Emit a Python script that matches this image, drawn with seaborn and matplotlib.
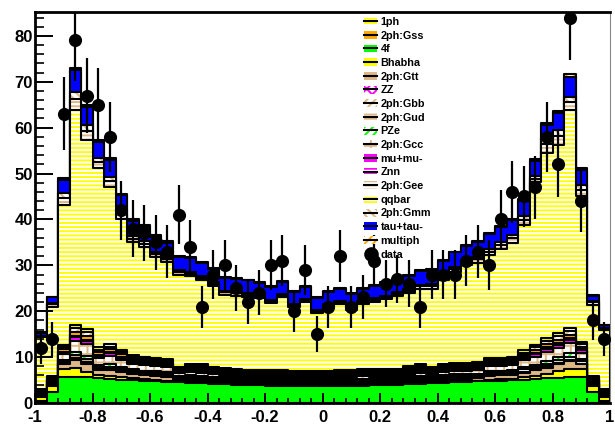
import numpy as np
import pandas as pd
import matplotlib
matplotlib.use("Agg")
import matplotlib.pyplot as plt
import seaborn as sns
from matplotlib.patches import Patch
from matplotlib.lines import Line2D
from matplotlib.ticker import MultipleLocator

# ---------------- data (50 bins from -1 to 1) ----------------
bin_edges = list(np.round(np.linspace(-1.0, 1.0, 51), 4))
bin_centers = 0.5 * (np.array(bin_edges[:-1]) + np.array(bin_edges[1:]))

data = [12, 14, 63, 79, 67, 65, 58, 42, 38, 37,
        35, 33, 41, 34, 21, 28, 30, 25, 22, 24,
        30, 31, 20, 29, 15, 21, 32, 21, 23, 31,
        26, 27, 26, 21, 28, 28, 28, 31, 33, 30,
        40, 46, 45, 47, 58, 52, 84, 44, 18, 14]

fourf = [0.5, 2.5, 5.6, 5.7, 5.6, 5.4, 5.3, 5.1, 5.0, 4.9,
         4.8, 4.6, 4.5, 4.4, 4.3, 4.2, 4.1, 4.0, 3.9, 3.9,
         3.8, 3.8, 3.7, 3.7, 3.7, 3.7, 3.7, 3.8, 3.8, 3.9,
         3.9, 4.0, 4.1, 4.2, 4.3, 4.4, 4.5, 4.6, 4.7, 4.8,
         4.9, 5.0, 5.1, 5.3, 5.4, 5.5, 5.6, 5.6, 2.5, 0.5]

bhabha = [0.8, 1.2, 1.9, 1.9, 1.2, 0.6, 0.6, 0.5, 0.4, 0.3,
          0.3, 0.3, 0.2, 0.2, 0.2, 0.2, 0.2, 0.2, 0.2, 0.2,
          0.2, 0.2, 0.2, 0.2, 0.2, 0.2, 0.2, 0.2, 0.2, 0.2,
          0.2, 0.2, 0.2, 0.2, 0.2, 0.2, 0.2, 0.2, 0.2, 0.3,
          0.3, 0.3, 0.5, 0.6, 0.9, 1.5, 1.9, 1.8, 1.2, 0.8]

gtt = [0.3, 0.3, 0.9, 1.8, 1.8, 1.1, 1.3, 1.1, 0.9, 0.8,
       0.8, 0.8, 0.4, 0.5, 0.4, 0.4, 0.4, 0.3, 0.3, 0.3,
       0.3, 0.3, 0.3, 0.3, 0.3, 0.3, 0.4, 0.3, 0.4, 0.4,
       0.4, 0.3, 0.4, 0.4, 0.4, 0.4, 0.5, 0.5, 0.5, 0.8,
       0.8, 0.8, 1.0, 1.2, 1.4, 1.4, 1.6, 1.0, 0.3, 0.3]

zz = [0.1, 0.1, 0.2, 0.3, 0.3, 0.2, 0.2, 0.2, 0.2, 0.2,
      0.2, 0.2, 0.2, 0.2, 0.3, 0.3, 0.3, 0.3, 0.3, 0.3,
      0.3, 0.3, 0.3, 0.3, 0.3, 0.3, 0.3, 0.3, 0.3, 0.3,
      0.3, 0.3, 0.3, 0.3, 0.3, 0.3, 0.3, 0.2, 0.2, 0.2,
      0.2, 0.2, 0.2, 0.2, 0.3, 0.3, 0.3, 0.2, 0.1, 0.1]

gud = [0.1, 0.2, 0.4, 0.7, 0.7, 0.5, 0.5, 0.5, 0.4, 0.4,
       0.4, 0.4, 0.3, 0.4, 0.3, 0.3, 0.3, 0.3, 0.3, 0.3,
       0.3, 0.3, 0.3, 0.3, 0.3, 0.3, 0.3, 0.3, 0.3, 0.3,
       0.3, 0.3, 0.3, 0.4, 0.3, 0.4, 0.4, 0.4, 0.4, 0.4,
       0.4, 0.4, 0.5, 0.5, 0.6, 0.7, 0.7, 0.5, 0.2, 0.1]

pze = [0.1, 0.2, 0.4, 0.7, 0.7, 0.5, 0.6, 0.5, 0.4, 0.4,
       0.4, 0.4, 0.3, 0.4, 0.4, 0.3, 0.3, 0.3, 0.3, 0.3,
       0.3, 0.3, 0.3, 0.3, 0.3, 0.3, 0.3, 0.3, 0.3, 0.3,
       0.3, 0.3, 0.3, 0.4, 0.3, 0.4, 0.4, 0.4, 0.4, 0.4,
       0.4, 0.4, 0.5, 0.5, 0.6, 0.6, 0.7, 0.5, 0.2, 0.1]

gcc = [0.5, 0.5, 1.2, 2.5, 2.5, 1.5, 1.8, 1.5, 1.2, 1.2,
       1.1, 1.1, 0.6, 0.7, 0.6, 0.6, 0.5, 0.5, 0.4, 0.4,
       0.4, 0.4, 0.4, 0.4, 0.4, 0.4, 0.5, 0.5, 0.5, 0.5,
       0.5, 0.5, 0.5, 0.6, 0.5, 0.6, 0.6, 0.7, 0.7, 1.1,
       1.1, 1.1, 1.5, 1.7, 2.0, 2.0, 2.3, 1.4, 0.5, 0.5]

mumu = [0.2, 0.2, 0.4, 0.7, 0.7, 0.5, 0.6, 0.5, 0.4, 0.4,
        0.4, 0.4, 0.3, 0.4, 0.4, 0.3, 0.3, 0.3, 0.3, 0.3,
        0.3, 0.3, 0.3, 0.3, 0.3, 0.3, 0.3, 0.3, 0.3, 0.3,
        0.3, 0.3, 0.4, 0.4, 0.3, 0.4, 0.4, 0.4, 0.4, 0.4,
        0.4, 0.4, 0.5, 0.6, 0.6, 0.7, 0.7, 0.5, 0.2, 0.2]

znn = [0.1, 0.1, 0.2, 0.3, 0.3, 0.2, 0.2, 0.2, 0.2, 0.2,
       0.2, 0.2, 0.2, 0.2, 0.3, 0.3, 0.3, 0.3, 0.3, 0.3,
       0.3, 0.3, 0.3, 0.3, 0.3, 0.3, 0.3, 0.3, 0.3, 0.3,
       0.3, 0.3, 0.3, 0.3, 0.3, 0.3, 0.3, 0.2, 0.2, 0.2,
       0.2, 0.2, 0.2, 0.3, 0.3, 0.3, 0.3, 0.2, 0.1, 0.1]

gss = [0.1, 0.2, 0.5, 0.9, 0.9, 0.6, 0.6, 0.5, 0.4, 0.4,
       0.4, 0.4, 0.3, 0.4, 0.4, 0.3, 0.3, 0.3, 0.3, 0.3,
       0.3, 0.3, 0.3, 0.3, 0.3, 0.3, 0.3, 0.3, 0.3, 0.3,
       0.3, 0.3, 0.4, 0.4, 0.3, 0.4, 0.4, 0.4, 0.4, 0.4,
       0.4, 0.4, 0.5, 0.6, 0.7, 0.8, 0.8, 0.6, 0.2, 0.1]

gbb = [0.1, 0.2, 0.5, 0.8, 0.8, 0.5, 0.6, 0.5, 0.5, 0.4,
       0.4, 0.4, 0.3, 0.4, 0.4, 0.3, 0.3, 0.3, 0.3, 0.3,
       0.3, 0.3, 0.3, 0.3, 0.3, 0.3, 0.3, 0.3, 0.3, 0.3,
       0.3, 0.3, 0.4, 0.4, 0.3, 0.4, 0.4, 0.4, 0.5, 0.4,
       0.4, 0.4, 0.5, 0.6, 0.7, 0.7, 0.7, 0.5, 0.2, 0.1]

qqbar = [0.1, 0.2, 0.4, 0.7, 0.7, 0.5, 0.5, 0.5, 0.4, 0.4,
         0.4, 0.4, 0.3, 0.4, 0.4, 0.3, 0.3, 0.3, 0.3, 0.3,
         0.3, 0.3, 0.3, 0.3, 0.3, 0.3, 0.3, 0.3, 0.3, 0.3,
         0.3, 0.3, 0.4, 0.4, 0.3, 0.4, 0.4, 0.4, 0.4, 0.4,
         0.4, 0.4, 0.5, 0.6, 0.7, 0.7, 0.7, 0.5, 0.2, 0.1]

ph1 = [11.3, 15.1, 30.6, 46.9, 41.0, 39.0, 34.3, 28.5, 24.6, 23.9,
       22.0, 21.1, 20.0, 19.0, 18.3, 17.7, 16.0, 16.0, 15.9, 15.6,
       14.7, 15.9, 13.9, 15.0, 12.6, 13.9, 14.3, 13.1, 14.2, 14.6,
       15.2, 15.9, 15.9, 16.5, 17.1, 18.3, 19.8, 21.2, 21.6, 22.4,
       23.6, 24.9, 27.3, 35.4, 40.2, 41.0, 47.5, 31.8, 15.5, 12.9]

gee = [0.2, 0.5, 1.5, 2.3, 2.0, 1.4, 1.3, 1.1, 0.8, 0.8,
       0.7, 0.7, 0.6, 0.6, 0.5, 0.5, 0.5, 0.5, 0.5, 0.4,
       0.4, 0.4, 0.4, 0.4, 0.4, 0.4, 0.4, 0.4, 0.4, 0.5,
       0.5, 0.5, 0.5, 0.5, 0.6, 0.6, 0.7, 0.7, 0.8, 0.8,
       0.9, 1.0, 1.1, 0.8, 2.0, 2.0, 1.7, 1.4, 0.5, 0.2]

gmm = [0.2, 0.3, 1.0, 1.5, 1.4, 0.9, 0.9, 0.7, 0.6, 0.5,
       0.5, 0.4, 0.4, 0.4, 0.4, 0.4, 0.3, 0.3, 0.3, 0.3,
       0.3, 0.3, 0.3, 0.3, 0.3, 0.3, 0.3, 0.3, 0.3, 0.3,
       0.3, 0.3, 0.4, 0.4, 0.4, 0.4, 0.4, 0.5, 0.5, 0.6,
       0.6, 0.7, 0.8, 0.5, 1.4, 1.3, 1.1, 0.9, 0.3, 0.2]

tautau = [0.6, 1.2, 3.0, 4.8, 3.8, 3.4, 3.6, 3.4, 3.3, 3.2,
          3.2, 3.1, 3.0, 3.0, 3.0, 2.9, 2.9, 2.8, 2.8, 2.7,
          2.7, 2.7, 2.6, 2.6, 2.6, 2.6, 2.6, 2.7, 2.7, 2.7,
          2.8, 2.8, 2.9, 2.9, 3.0, 3.0, 3.1, 3.1, 3.2, 3.2,
          3.3, 3.3, 3.4, 3.4, 2.8, 3.7, 4.5, 3.3, 1.2, 0.6]

multiph = [0.1, 0.2, 0.4, 0.5, 0.5, 0.4, 0.4, 0.3, 0.3, 0.3,
           0.3, 0.3, 0.2, 0.2, 0.2, 0.2, 0.2, 0.2, 0.2, 0.2,
           0.2, 0.2, 0.2, 0.2, 0.2, 0.2, 0.2, 0.2, 0.2, 0.2,
           0.2, 0.2, 0.2, 0.2, 0.2, 0.2, 0.2, 0.2, 0.3, 0.3,
           0.3, 0.3, 0.3, 0.4, 0.4, 0.5, 0.5, 0.4, 0.2, 0.1]

x_tick_values = [-1, -0.8, -0.6, -0.4, -0.2, 0, 0.2, 0.4, 0.6, 0.8, 1]
x_tick_labels = ["-1", "-0.8", "-0.6", "-0.4", "-0.2", "0", "0.2", "0.4", "0.6", "0.8", "1"]
y_tick_values = [0, 10, 20, 30, 40, 50, 60, 70, 80]

# ---------------- styles ----------------
TAN = "#deb887"
YEL = "#ffff00"
GRN = "#00ff00"
MAG = "#ff00ff"
ORA = "#ffaa00"
BLU = "#0000ff"

# stacking order (bottom -> top): name, values, face, hatch, hatch colour
stack = [
    ("4f", fourf, GRN, None, None),
    ("Bhabha", bhabha, YEL, None, None),
    ("2ph:Gtt", gtt, TAN, None, None),
    ("ZZ", zz, "white", "xxx", MAG),
    ("2ph:Gud", gud, "white", "----", TAN),
    ("PZe", pze, "white", "////", GRN),
    ("2ph:Gcc", gcc, "white", "++", TAN),
    ("mu+mu-", mumu, MAG, None, None),
    ("Znn", znn, "white", "----", MAG),
    ("2ph:Gss", gss, ORA, None, None),
    ("2ph:Gbb", gbb, "white", "////", TAN),
    ("qqbar", qqbar, "white", "----", YEL),
    ("1ph", ph1, "white", "----", YEL),
    ("2ph:Gee", gee, "white", "----", TAN),
    ("2ph:Gmm", gmm, "white", "\\\\\\\\", TAN),
    ("tau+tau-", tautau, BLU, None, None),
    ("multiph", multiph, "white", "////", ORA),
]
style = {name: (face, hatch, hc) for name, _, face, hatch, hc in stack}

legend_order = ["1ph", "2ph:Gss", "4f", "Bhabha", "2ph:Gtt", "ZZ", "2ph:Gbb",
                "2ph:Gud", "PZe", "2ph:Gcc", "mu+mu-", "Znn", "2ph:Gee",
                "qqbar", "2ph:Gmm", "tau+tau-", "multiph"]

plt.rcParams["hatch.linewidth"] = 1.4
plt.rcParams["font.family"] = ["Liberation Sans", "DejaVu Sans"]
plt.rcParams["font.weight"] = "bold"

fig = plt.figure(figsize=(6.15, 4.30), dpi=100)
ax = fig.add_axes([35 / 615, (430 - 403) / 430, 575 / 615, (403 - 12) / 430])

# cumulative sums, drawn from the top of the stack downwards (ROOT THStack style)
cum = np.cumsum(np.array([s[1] for s in stack], dtype=float), axis=0)
LW = 1.5
for k in range(len(stack) - 1, -1, -1):
    name, _, face, hatch, hc = stack[k]
    df = pd.DataFrame({"x": bin_centers, "w": cum[k]})
    if hatch is None:
        sns.histplot(data=df, x="x", weights="w", bins=bin_edges, element="step",
                     fill=True, color=face, facecolor=face, edgecolor="black",
                     linewidth=LW, alpha=1, ax=ax)
    else:
        sns.histplot(data=df, x="x", weights="w", bins=bin_edges, element="step",
                     fill=True, color=face, facecolor=face, edgecolor=hc, hatch=hatch,
                     linewidth=0, alpha=1, ax=ax)
        sns.histplot(data=df, x="x", weights="w", bins=bin_edges, element="step",
                     fill=True, color="black", facecolor="none", edgecolor="black",
                     linewidth=LW, alpha=1, ax=ax)

# data points with Poisson error bars
data_arr = np.array(data, dtype=float)
ax.errorbar(bin_centers, data_arr, yerr=np.sqrt(data_arr), fmt="none",
            ecolor="black", elinewidth=1.6, capsize=0, zorder=5)
sns.scatterplot(x=bin_centers, y=data_arr, s=90, color="black", edgecolor="black",
                linewidth=0, zorder=6, legend=False, ax=ax)

# axes cosmetics
ax.set_xlim(-1, 1)
ax.set_ylim(0, 85.2)
ax.set_xlabel("")
ax.set_ylabel("")
ax.set_xticks(x_tick_values, labels=x_tick_labels)
ax.set_yticks(y_tick_values)
ax.xaxis.set_minor_locator(MultipleLocator(0.04))
ax.yaxis.set_minor_locator(MultipleLocator(2))
ax.tick_params(axis="both", which="both", direction="in", top=False, right=False,
               labelsize=12, color="black")
ax.tick_params(axis="y", which="major", length=13, width=1.4, pad=1.5)
ax.tick_params(axis="y", which="minor", length=6.5, width=1.2)
ax.tick_params(axis="x", which="major", length=7.5, width=1.4, pad=5)
ax.tick_params(axis="x", which="minor", length=3.7, width=1.2)
for lab in ax.get_xticklabels() + ax.get_yticklabels():
    lab.set_fontweight("bold")
for side in ["left", "bottom", "top"]:
    ax.spines[side].set_linewidth(2)
    ax.spines[side].set_color("black")
ax.spines["right"].set_linewidth(0.8)
ax.spines["right"].set_color("#888888")
ax.set_facecolor("white")

# legend
handles = []
for name in legend_order:
    face, hatch, hc = style[name]
    if hatch is None:
        p = Patch(facecolor=face, edgecolor=face, linewidth=0)
    else:
        p = Patch(facecolor=face, edgecolor=hc, hatch=hatch, linewidth=0)
    handles.append((p, Line2D([], [], color="black", linewidth=1.5)))
handles.append(Line2D([], [], marker="o", color="black", markersize=9.5, linestyle="none"))
labels = legend_order + ["data"]
leg = ax.legend(handles, labels, loc="upper left", bbox_to_anchor=(0.568, 0.993),
                frameon=False, fontsize=7.8, handlelength=1.25, handleheight=0.75,
                handletextpad=0.3, labelspacing=0.34, borderaxespad=0.0,
                borderpad=0.2)
for t in leg.get_texts():
    t.set_fontweight("bold")

fig.savefig("out.png", dpi=100)
